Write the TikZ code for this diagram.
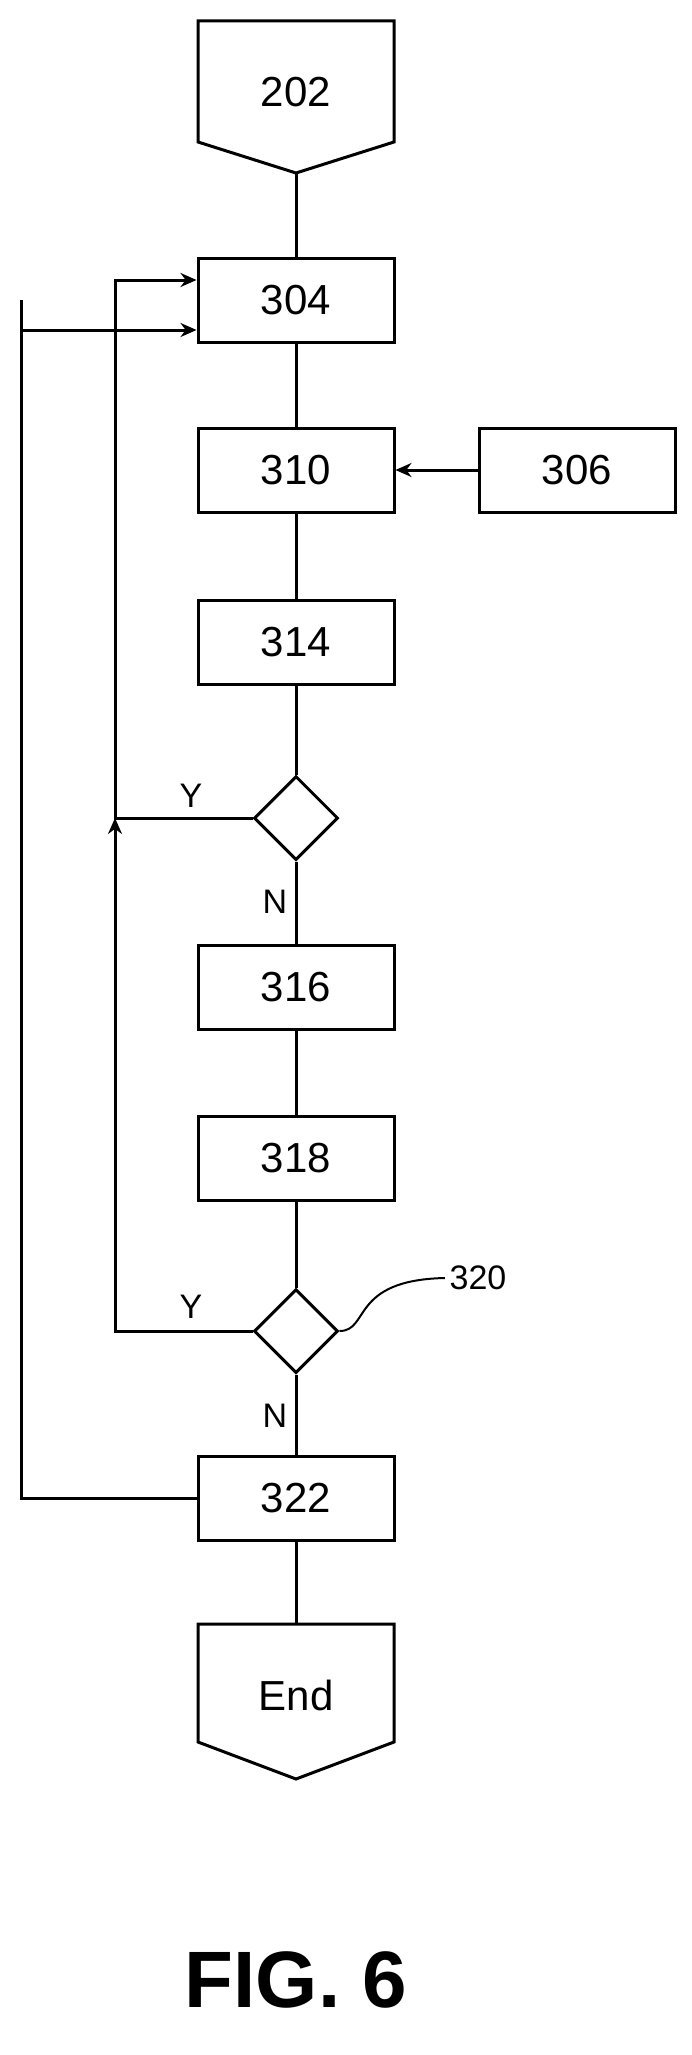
\documentclass[tikz,border=0pt]{standalone}
\usepackage{fontspec}
\setmainfont{Liberation Sans}
\usetikzlibrary{arrows.meta,shapes.geometric}

\begin{document}
\begin{tikzpicture}[x=1pt,y=-1pt,line width=3pt,
    >={Stealth[length=16pt,width=14pt,open]},
    every node/.style={font=\fontsize{42}{48}\selectfont},
    stepbox/.style={draw,rectangle,minimum width=196pt,minimum height=84pt,inner sep=0pt},
    decision/.style={draw,diamond,minimum width=84pt,minimum height=84pt,inner sep=0pt},
    lbl/.style={font=\fontsize{34}{40}\selectfont}]
\useasboundingbox (0,0) rectangle (692,2055);
% terminals
\draw (198,21) -- (394,21) -- (394,142) -- (296,173) -- (198,142) -- cycle;
\node (s202) at (296,92) {202};
\coordinate (s202b) at (296,173);
\draw (198,1624) -- (394,1624) -- (394,1742) -- (296,1779) -- (198,1742) -- cycle;
\node (send) at (296,1695) {End};
\coordinate (sendt) at (296,1624);
% steps
\node[stepbox] (s304) at (296,300) {304};
\node[stepbox] (s310) at (296,470) {310};
\node[stepbox] (s306) at (577,470) {306};
\node[stepbox] (s314) at (296,642) {314};
\node[decision] (d1) at (296,818) {};
\node[stepbox] (s316) at (296,987) {316};
\node[stepbox] (s318) at (296,1158) {318};
\node[decision] (d2) at (296,1331) {};
\node[stepbox] (s322) at (296,1498) {322};
\node[lbl] (y1) at (191,796) {Y};
\node[lbl] (n1) at (275,902) {N};
\node[lbl] (y2) at (191,1307) {Y};
\node[lbl] (n2) at (275,1416) {N};
\node[lbl] (l320) at (478,1278) {320};
\node[font=\fontsize{80}{90}\selectfont\bfseries] (fig) at (296,1980) {FIG. 6};
% connectors
\draw (s202b) -- (s304);
\draw (s304) -- (s310);
\draw[->] (s306) -- (s310);
\draw (s310) -- (s314);
\draw (s314) -- (d1);
\draw (d1) -- (s316);
\draw (s316) -- (s318);
\draw (s318) -- (d2);
\draw (d2) -- (s322);
\draw (s322) -- (sendt);
\coordinate (j1) at (115,818);
\draw[->] (d1.west) -- (j1) |- ([yshift=20pt]s304.west);
\draw[->] (d2.west) -| (j1);
\draw[->] (s322.west) -| (21,300) |- ([yshift=-30pt]s304.west);
\draw[line width=2pt] (d2.east) .. controls (370,1331) and (350,1280) .. (l320.west);
\end{tikzpicture}
\end{document}
